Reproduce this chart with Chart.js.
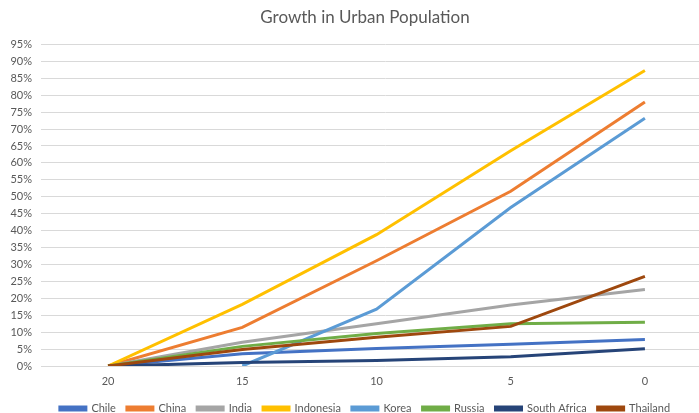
<!DOCTYPE html>
<html>
<head>
<meta charset="utf-8">
<script src="https://cdn.jsdelivr.net/npm/chart.js@4/dist/chart.umd.min.js"></script>
<style>
  html, body { margin: 0; padding: 0; background: #fff; overflow: hidden; }
  #urbanChart { display: block; }
</style>
</head>
<body>
<canvas id="urbanChart" width="730" height="413"></canvas>
<script>
// Years before present
const years = ['20', '15', '10', '5', '0'];

// Cumulative growth in urban population, %
const chile = [0, 3.6, 5.2, 6.4, 7.8];
const china = [0, 11.4, 31.1, 51.6, 78.0];
const india = [0, 7.0, 12.5, 18.0, 22.6];
const indonesia = [0, 18.2, 38.8, 63.6, 87.3];
const korea = [null, 0, 16.8, 46.8, 73.2];
const russia = [0, 5.8, 9.6, 12.5, 12.9];
const southAfrica = [0, 1.0, 1.6, 2.7, 5.1];
const thailand = [0, 4.9, 8.5, 11.7, 26.5];

const yTicks = { min: 0, max: 95, step: 5 };

const series = [
    { label: 'Chile', data: chile, color: '#4472C4' },
    { label: 'China', data: china, color: '#ED7D31' },
    { label: 'India', data: india, color: '#A5A5A5' },
    { label: 'Indonesia', data: indonesia, color: '#FFC000' },
    { label: 'Korea', data: korea, color: '#5B9BD5' },
    { label: 'Russia', data: russia, color: '#70AD47' },
    { label: 'South Africa', data: southAfrica, color: '#264478' },
    { label: 'Thailand', data: thailand, color: '#9E480E' }
];

const textColor = '#595959';
const gridColor = '#D9D9D9';
const fontFamily = 'Lato, "Noto Sans", sans-serif';

// x runs from 20 years ago down to 0, half a step of padding on the left
const xRange = { max: 22.5, min: -3.17 };

const ctx = document.getElementById('urbanChart').getContext('2d');

new Chart(ctx, {
    type: 'line',
    data: {
        datasets: series.map((s, i) => ({
            label: s.label,
            data: s.data.map((v, j) => ({ x: Number(years[j]), y: v })),
            borderColor: s.color,
            backgroundColor: s.color,
            borderWidth: 3,
            pointRadius: 0,
            tension: 0,
            fill: false,
            // later series sit on top
            order: series.length - i
        }))
    },
    options: {
        responsive: false,
        animation: false,
        layout: { padding: { left: 0, right: 0, top: 0, bottom: -11 } },
        plugins: {
            title: {
                display: true,
                text: 'Growth in Urban Population',
                color: textColor,
                font: { family: fontFamily, size: 17, weight: 'normal' },
                padding: { top: 7, bottom: 17 }
            },
            legend: {
                position: 'bottom',
                labels: {
                    color: textColor,
                    font: { family: fontFamily, size: 11 },
                    boxWidth: 26,
                    boxHeight: 3,
                    padding: 11,
                    sort: (a, b) => a.datasetIndex - b.datasetIndex
                }
            },
            tooltip: { enabled: false }
        },
        scales: {
            x: {
                type: 'linear',
                reverse: true,
                min: xRange.min,
                max: xRange.max,
                grid: { display: false, drawTicks: false },
                border: { display: false },
                afterBuildTicks: scale => {
                    scale.ticks = years.map(y => ({ value: Number(y) }));
                },
                ticks: {
                    color: textColor,
                    font: { family: fontFamily, size: 11 },
                    padding: 9,
                    callback: v => String(v)
                },
                afterFit: scale => { scale.height = 26; }
            },
            y: {
                min: yTicks.min,
                max: yTicks.max,
                grid: { color: gridColor, lineWidth: 1, drawTicks: false },
                border: { display: false },
                ticks: {
                    stepSize: yTicks.step,
                    autoSkip: false,
                    color: textColor,
                    font: { family: fontFamily, size: 11 },
                    padding: 9,
                    callback: v => v + '%'
                },
                afterFit: scale => { scale.width = 41; }
            }
        }
    }
});
</script>
</body>
</html>
